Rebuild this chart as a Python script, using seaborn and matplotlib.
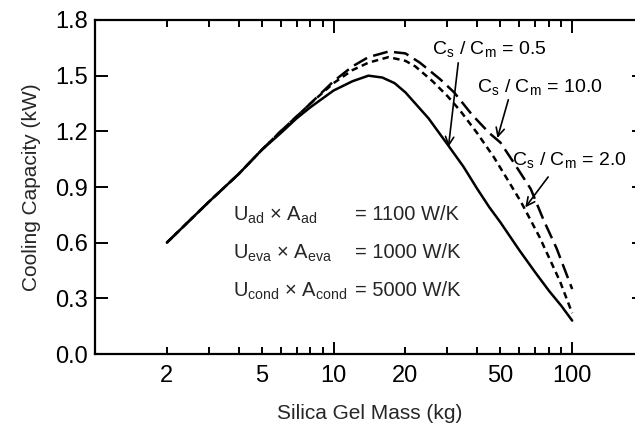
import matplotlib
matplotlib.use("Agg")
import matplotlib.pyplot as plt
import seaborn as sns
import pandas as pd
from matplotlib.ticker import FixedLocator, FixedFormatter, NullFormatter

# ---- data ----
mass_05 = [2, 3, 4, 5, 6, 7, 8, 10, 12, 14, 16, 18, 20, 25, 30, 35, 40, 45, 50, 60, 70, 80, 90, 100]
cap_05 = [0.60, 0.82, 0.97, 1.10, 1.19, 1.27, 1.33, 1.42, 1.47, 1.50, 1.49, 1.46, 1.41, 1.27, 1.13,
          1.01, 0.89, 0.79, 0.71, 0.56, 0.44, 0.34, 0.26, 0.18]

mass_10 = [2, 3, 4, 5, 6, 7, 8, 10, 12, 14, 17, 20, 23, 28, 32, 38, 45, 50, 57, 67, 76, 86, 100]
cap_10 = [0.60, 0.82, 0.97, 1.10, 1.20, 1.28, 1.35, 1.47, 1.55, 1.60, 1.63, 1.62, 1.57, 1.48, 1.41,
          1.29, 1.19, 1.14, 1.03, 0.89, 0.72, 0.57, 0.35]

mass_20 = [2, 3, 4, 5, 6, 7, 8, 10, 12, 14, 17, 20, 22, 26, 30, 34, 40, 47, 53, 61, 73, 89, 100]
cap_20 = [0.60, 0.82, 0.97, 1.10, 1.20, 1.28, 1.35, 1.46, 1.53, 1.57, 1.60, 1.58, 1.55, 1.47, 1.39,
          1.31, 1.19, 1.06, 0.95, 0.82, 0.63, 0.39, 0.22]

x_tick_vals = [1, 2, 5, 10, 20, 50, 100]
x_tick_labels = ["", "2", "5", "10", "20", "50", "100"]
x_minor_vals = [3, 4, 6, 7, 8, 9, 30, 40, 60, 70, 80, 90]
y_tick_vals = [0.0, 0.3, 0.6, 0.9, 1.2, 1.5, 1.8]
y_tick_labels = ["0.0", "0.3", "0.6", "0.9", "1.2", "1.5", "1.8"]

ratio_labels = ["0.5", "10.0", "2.0"]
param_names = [r"U$_\mathregular{ad}$ × A$_\mathregular{ad}$",
               r"U$_\mathregular{eva}$ × A$_\mathregular{eva}$",
               r"U$_\mathregular{cond}$ × A$_\mathregular{cond}$"]
param_values = ["= 1100 W/K", "= 1000 W/K", "= 5000 W/K"]

# ---- style ----
sns.set_style("ticks")
plt.rcParams["font.family"] = ["Liberation Sans", "DejaVu Sans"]
plt.rcParams["mathtext.fontset"] = "custom"
plt.rcParams["mathtext.rm"] = "Liberation Sans"

fig = plt.figure(figsize=(6.35, 4.23), dpi=100)
ax = fig.add_axes([95 / 635, 1 - 354 / 423, (644 - 95) / 635, (354 - 20) / 423])

df05 = pd.DataFrame({"mass": mass_05, "cap": cap_05})
df10 = pd.DataFrame({"mass": mass_10, "cap": cap_10})
df20 = pd.DataFrame({"mass": mass_20, "cap": cap_20})

sns.lineplot(data=df05, x="mass", y="cap", ax=ax, color="black", lw=1.8, linestyle="-")
sns.lineplot(data=df10, x="mass", y="cap", ax=ax, color="black", lw=1.8, linestyle=(0, (6.0, 2.6)))
sns.lineplot(data=df20, x="mass", y="cap", ax=ax, color="black", lw=1.8, linestyle=(0, (2.6, 1.8)))

ax.set_xscale("log")
ax.set_xlim(1, 200)
ax.set_ylim(0, 1.8)

ax.xaxis.set_major_locator(FixedLocator(x_tick_vals))
ax.xaxis.set_major_formatter(FixedFormatter(x_tick_labels))
ax.xaxis.set_minor_locator(FixedLocator(x_minor_vals))
ax.xaxis.set_minor_formatter(NullFormatter())
ax.yaxis.set_major_locator(FixedLocator(y_tick_vals))
ax.yaxis.set_major_formatter(FixedFormatter(y_tick_labels))

ax.tick_params(which="both", direction="in", top=True, right=True, width=1.4, colors="black")
ax.tick_params(which="major", length=9, labelsize=17)
ax.tick_params(axis="x", which="major", pad=8)
ax.tick_params(axis="y", which="major", pad=5)
ax.tick_params(which="minor", length=5)

# short ticks for the labelled non-decade positions
for val, tick in zip(ax.get_xticks(), ax.xaxis.get_major_ticks()):
    if val not in (1, 10, 100):
        tick.tick1line.set_markersize(5)
        tick.tick2line.set_markersize(5)

for sp in ax.spines.values():
    sp.set_linewidth(1.6)
    sp.set_color("black")

ax.set_xlabel("Silica Gel Mass (kg)", fontsize=15, labelpad=12)
ax.set_ylabel("Cooling Capacity (kW)", fontsize=15, labelpad=10)

# ---- annotations ----
txt_pos = [(25.9, 1.639), (40.0, 1.434), (56.1, 1.040)]
arrow_tip = [(30.3, 1.116), (48.6, 1.164), (63.6, 0.79)]
arrow_tail = [(33.3, 1.569), (54.0, 1.37), (79.3, 0.954)]
for lab, tp, tip, tail in zip(ratio_labels, txt_pos, arrow_tip, arrow_tail):
    ax.text(tp[0], tp[1], r"C$_\mathregular{s}$ / C$_\mathregular{m}$ = " + lab,
            fontsize=14, ha="left", va="center", color="black")
    ax.annotate("", xy=tip, xytext=tail,
                arrowprops=dict(arrowstyle="->", color="black", lw=1.2,
                                mutation_scale=15, shrinkA=0, shrinkB=0))

name_x = 233 / 635
val_x = 355 / 635
rows_y = [215, 253, 291]
for nm, vl, yy in zip(param_names, param_values, rows_y):
    yf = 1 - yy / 423
    fig.text(name_x, yf, nm, fontsize=14.5, ha="left", va="center")
    fig.text(val_x, yf, vl, fontsize=14.5, ha="left", va="center")

fig.savefig("out.png", dpi=100)
